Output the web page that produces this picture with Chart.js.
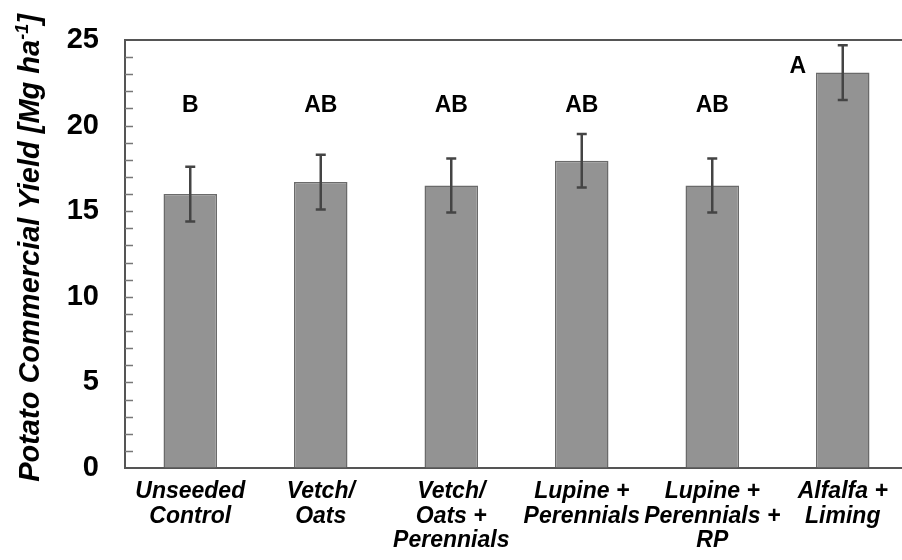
<!DOCTYPE html>
<html>
<head>
<meta charset="utf-8">
<script src="https://cdn.jsdelivr.net/npm/chart.js@4.4.1/dist/chart.umd.min.js"></script>
<style>
  html, body { margin: 0; padding: 0; background: #fff; overflow: hidden; }
  #wrap { width: 908px; height: 560px; position: relative; }
</style>
</head>
<body>
<div id="wrap"><canvas id="chartYield"></canvas></div>
<script>
const categories = [
    ['Unseeded', 'Control'],
    ['Vetch/', 'Oats'],
    ['Vetch/', 'Oats +', 'Perennials'],
    ['Lupine +', 'Perennials'],
    ['Lupine +', 'Perennials +', 'RP'],
    ['Alfalfa +', 'Liming']
];
const yieldValues = [16.0, 16.7, 16.5, 17.95, 16.5, 23.1];
const yieldErrors = [1.6, 1.6, 1.58, 1.56, 1.58, 1.6];
const groupLetters = ['B', 'AB', 'AB', 'AB', 'AB', 'A'];
const yTicks = [0, 5, 10, 15, 20, 25];

const FONT = '"Liberation Sans", Arial, sans-serif';

// error bars, letters, top border, inward minor ticks, y title
const extras = {
    id: 'extras',
    afterDatasetsDraw(chart) {
        const ctx = chart.ctx;
        const y = chart.scales.y;
        const area = chart.chartArea;
        const meta = chart.getDatasetMeta(0);

        ctx.save();
        // top border
        ctx.strokeStyle = '#555';
        ctx.lineWidth = 2;
        ctx.beginPath();
        ctx.moveTo(area.left, area.top);
        ctx.lineTo(area.right + 4, area.top);
        ctx.stroke();

        // minor ticks every 1, pointing inside
        ctx.strokeStyle = '#777';
        ctx.lineWidth = 1.5;
        for (let v = 1; v < 25; v++) {
            const py = Math.round(y.getPixelForValue(v)) + 0.5;
            ctx.beginPath();
            ctx.moveTo(area.left, py);
            ctx.lineTo(area.left + 8, py);
            ctx.stroke();
        }

        // error bars
        ctx.strokeStyle = '#444';
        ctx.lineWidth = 2.5;
        meta.data.forEach((bar, i) => {
            const top = y.getPixelForValue(yieldValues[i] + yieldErrors[i]);
            const bot = y.getPixelForValue(yieldValues[i] - yieldErrors[i]);
            ctx.beginPath();
            ctx.moveTo(bar.x, top);
            ctx.lineTo(bar.x, bot);
            ctx.moveTo(bar.x - 5, top);
            ctx.lineTo(bar.x + 5, top);
            ctx.moveTo(bar.x - 5, bot);
            ctx.lineTo(bar.x + 5, bot);
            ctx.stroke();
        });

        // significance letters
        ctx.fillStyle = '#000';
        ctx.font = 'bold 23px ' + FONT;
        ctx.textAlign = 'center';
        ctx.textBaseline = 'alphabetic';
        meta.data.forEach((bar, i) => {
            if (i === meta.data.length - 1) {
                ctx.fillText(groupLetters[i], bar.x - 45, y.getPixelForValue(23.1));
            } else {
                ctx.fillText(groupLetters[i], bar.x, y.getPixelForValue(20.8));
            }
        });

        // y axis title with superscript
        ctx.translate(39, 248);
        ctx.rotate(-Math.PI / 2);
        const big = 'italic bold 29px ' + FONT;
        const small = 'italic bold 18px ' + FONT;
        const p1 = 'Potato Commercial Yield [Mg ha';
        const p2 = '-1';
        const p3 = ']';
        ctx.font = big;
        const w1 = ctx.measureText(p1).width;
        const w3 = ctx.measureText(p3).width;
        ctx.font = small;
        const w2 = ctx.measureText(p2).width;
        let x0 = -(w1 + w2 + w3) / 2;
        ctx.textAlign = 'left';
        ctx.font = big;
        ctx.fillText(p1, x0, 0);
        ctx.font = small;
        ctx.fillText(p2, x0 + w1, -11);
        ctx.font = big;
        ctx.fillText(p3, x0 + w1 + w2, 0);
        ctx.restore();
    }
};

const ctx = document.getElementById('chartYield').getContext('2d');

new Chart(ctx, {
    type: 'bar',
    data: {
        labels: categories,
        datasets: [{
            data: yieldValues,
            backgroundColor: '#939393',
            borderColor: '#6a6a6a',
            borderWidth: 1.5,
            barPercentage: 0.41,
            categoryPercentage: 1
        }]
    },
    options: {
        responsive: true,
        maintainAspectRatio: false,
        animation: false,
        layout: { padding: { top: 40, left: 0, right: 0, bottom: 0 } },
        plugins: {
            legend: { display: false },
            tooltip: { enabled: false }
        },
        scales: {
            x: {
                grid: { display: true, drawOnChartArea: false, drawTicks: false },
                border: { display: true, color: '#555', width: 2 },
                ticks: {
                    color: '#000',
                    font: { family: FONT, size: 23, style: 'italic', weight: 'bold', lineHeight: 1.05 },
                    padding: 12,
                    maxRotation: 0,
                    autoSkip: false
                },
                afterFit: s => { s.height = 92; s.paddingLeft = 0; s.paddingRight = 0; }
            },
            y: {
                min: 0,
                max: 25,
                afterBuildTicks: s => { s.ticks = yTicks.map(v => ({ value: v })); },
                grid: { display: true, drawOnChartArea: false, drawTicks: false },
                border: { display: true, color: '#555', width: 2 },
                ticks: {
                    color: '#000',
                    font: { family: FONT, size: 29, weight: 'bold' },
                    padding: 26
                },
                afterFit: s => { s.width = 125; s.paddingTop = 0; s.paddingBottom = 0; }
            }
        }
    },
    plugins: [extras]
});
</script>
</body>
</html>
